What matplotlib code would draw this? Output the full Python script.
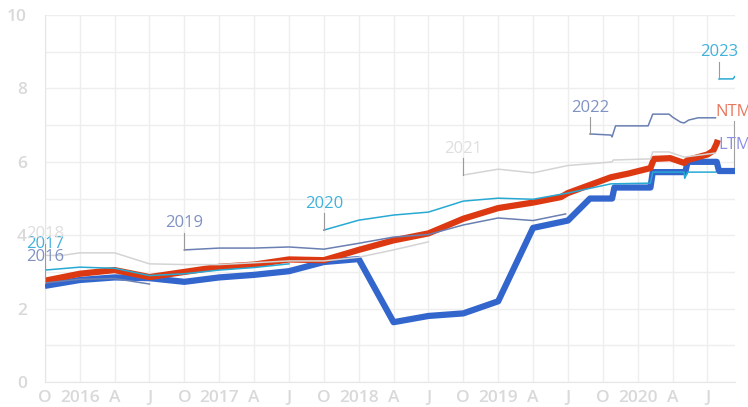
import matplotlib.pyplot as plt

# x = months since Oct 2015
tick_pos = list(range(0, 58, 3))
tick_lab = ["O", "2016", "A", "J", "O", "2017", "A", "J", "O", "2018", "A", "J",
            "O", "2019", "A", "J", "O", "2020", "A", "J"]

# trailing twelve months (thick blue)
ltm_x = [0, 3, 6, 9, 12, 15, 18, 21, 24, 27, 30, 33, 36, 39, 42, 45, 46.9, 48.8, 49.0,
         52.1, 52.3, 55.1, 55.3, 57.8, 58.0, 59.4]
ltm_y = [2.62, 2.78, 2.85, 2.83, 2.73, 2.85, 2.92, 3.02, 3.27, 3.35, 1.63, 1.8, 1.87, 2.2,
         4.2, 4.4, 5.0, 5.0, 5.3, 5.3, 5.72, 5.72, 6.0, 6.0, 5.75, 5.75]

# next twelve months (thick red)
ntm_x = [0, 3, 6, 9, 12, 15, 18, 21, 24, 27, 30, 33, 36, 39, 42, 44.4, 45, 48.7, 50.2,
         52.1, 52.4, 53.8, 55.0, 55.3, 57.0, 57.5, 57.8, 57.9]
ntm_y = [2.76, 2.95, 3.05, 2.86, 3.0, 3.14, 3.2, 3.34, 3.32, 3.6, 3.86, 4.05, 4.45, 4.74,
         4.89, 5.04, 5.15, 5.58, 5.68, 5.83, 6.08, 6.1, 5.97, 6.05, 6.2, 6.3, 6.5, 6.6]

# annual forecasts by vintage
v2016_x = [0, 3, 6, 9]
v2016_y = [2.7, 2.8, 2.82, 2.67]
v2017_x = [0, 3, 6, 9, 12, 15, 18, 21]
v2017_y = [3.05, 3.13, 3.1, 2.9, 2.95, 3.05, 3.12, 3.22]
v2018_x = [0, 1.5, 3, 6, 9, 12, 15, 18, 21, 24, 27, 30, 33]
v2018_y = [3.45, 3.45, 3.52, 3.52, 3.22, 3.2, 3.2, 3.25, 3.3, 3.3, 3.4, 3.6, 3.82]
v2019_x = [12, 15, 18, 21, 24, 27, 30, 33, 36, 39, 42, 44.8]
v2019_y = [3.6, 3.65, 3.65, 3.68, 3.62, 3.78, 3.95, 4.02, 4.28, 4.47, 4.4, 4.58]
v2020_x = [24, 27, 30, 33, 36, 39, 42, 45, 48.7, 52.1, 52.3, 55.0, 55.05, 55.3, 57.7]
v2020_y = [4.14, 4.41, 4.55, 4.63, 4.93, 5.01, 4.98, 5.15, 5.4, 5.42, 5.72, 5.72, 5.55, 5.72, 5.72]
v2021_x = [36, 39, 42, 45, 47.8, 48.8, 48.9, 52.1, 52.3, 53.7, 55.0, 57.7]
v2021_y = [5.64, 5.8, 5.7, 5.9, 5.97, 6.0, 6.05, 6.08, 6.27, 6.27, 6.13, 6.24]
v2022_x = [46.9, 48.7, 48.8, 49.1, 51.9, 52.3, 53.7, 54.0, 54.7, 55.0, 55.4, 56.2, 57.7]
v2022_y = [6.76, 6.73, 6.68, 6.98, 6.98, 7.3, 7.3, 7.22, 7.08, 7.06, 7.14, 7.2, 7.2]
v2023_x = [58.0, 59.2, 59.4]
v2023_y = [8.26, 8.26, 8.34]

vintages = [("2016", v2016_x, v2016_y), ("2017", v2017_x, v2017_y), ("2018", v2018_x, v2018_y),
            ("2019", v2019_x, v2019_y), ("2020", v2020_x, v2020_y), ("2021", v2021_x, v2021_y),
            ("2022", v2022_x, v2022_y), ("2023", v2023_x, v2023_y)]
line_cols = ["#6a7fb2", "#27a9d3", "#d4d4d4"]
text_cols = ["#7f92c2", "#3fb2dc", "#dedede"]
label_off = {"2018": 0.57}

plt.rcParams['font.family'] = ['Open Sans', 'DejaVu Sans']
fig = plt.figure(figsize=(7.48, 4.07), dpi=100)
ax = fig.add_axes([0.060, 0.0614, 0.923, 0.9016])

ax.plot(ltm_x, ltm_y, color="#3366cc", lw=4.5, solid_capstyle='butt', zorder=3)
ax.plot(ntm_x, ntm_y, color="#dc3912", lw=4.5, solid_capstyle='butt', zorder=3)

for i, (name, xs, ys) in enumerate(vintages):
    c = i % 3
    ax.plot(xs, ys, color=line_cols[c], lw=1.1, zorder=4)
    off = label_off.get(name, 0.72)
    ax.plot([xs[0], xs[0]], [ys[0], ys[0] + off - 0.25], color="#9a9a9a", lw=0.8, zorder=4)
    ax.text(xs[0], ys[0] + off, name, color=text_cols[c], fontsize=12,
            ha='center', va='center', zorder=5)

# end labels
ax.plot([59.3, 59.3], [5.85, 7.12], color="#a0a0a0", lw=0.8, zorder=4, clip_on=False)
ax.text(59.3, 7.36, "NTM", color="#e8785e", fontsize=12, ha='center', va='center',
        zorder=5, clip_on=False)
ax.text(59.4, 6.46, "LTM", color="#8b8fe6", fontsize=12, ha='center', va='center',
        zorder=5, clip_on=False)

ax.set_xlim(0, 59.4)
ax.set_ylim(0, 10)
ax.set_xticks(tick_pos)
ax.set_xticklabels(tick_lab)
ax.set_yticks(range(0, 11, 2))
ax.set_yticks(range(0, 11), minor=True)
ax.grid(True, which='both', color="#eeeeee", lw=1.0, zorder=0)
ax.set_axisbelow(True)
for s in ['top', 'right']:
    ax.spines[s].set_visible(False)
for s in ['left', 'bottom']:
    ax.spines[s].set_color("#e6e6e6")
ax.tick_params(axis='both', which='both', length=0, colors="#d9d9d9", labelsize=12.5)
ax.tick_params(axis='x', pad=6)
ax.tick_params(axis='y', pad=13)
for t in ax.get_xticklabels() + ax.get_yticklabels():
    t.set_fontweight('semibold')

fig.savefig("out.png", dpi=100)
